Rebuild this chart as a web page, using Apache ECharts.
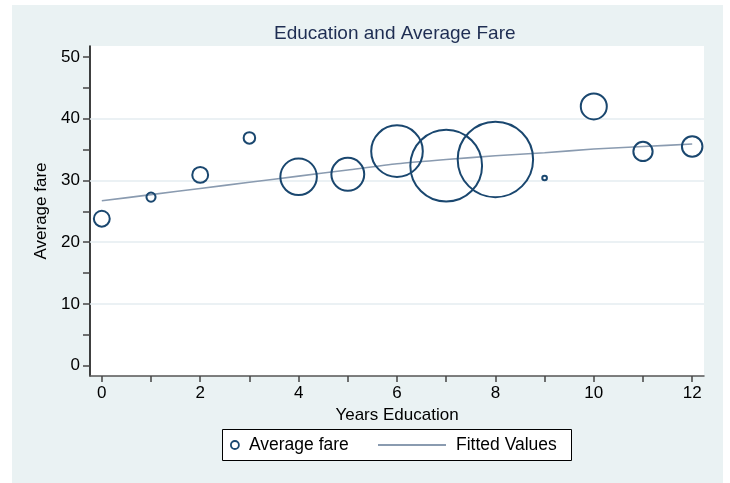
<!DOCTYPE html>
<html><head><meta charset="utf-8">
<script src="https://cdn.jsdelivr.net/npm/echarts@6/dist/echarts.min.js"></script>
<style>
html,body{margin:0;padding:0;background:#fff}
#panel{position:absolute;left:12px;top:5px;width:711px;height:478px;background:#eaf2f3}
#c{position:absolute;left:0;top:0;width:730px;height:483px}
</style>
</head><body><div id="panel"></div><div id="c"></div>
<script>
const years = [0,1,2,3,4,5,6,7,8,9,10,11,12];
const avgFare = [23.8,27.3,30.9,36.9,30.6,31.0,34.75,32.4,33.4,30.4,42.0,34.7,35.5];
const weights = [7,2.3,7,3.7,37,30,74,143,158,0.6,18.8,10.3,11.7];
const fitted = [26.7,27.7,28.7,29.7,30.7,31.7,32.7,33.4,34.0,34.5,35.1,35.5,35.9];
const xTickValues = [0,1,2,3,4,5,6,7,8,9,10,11,12];
const xLabelValues = [0,2,4,6,8,10,12];
const yTickValues = [0,5,10,15,20,25,30,35,40,45,50];
const yLabelValues = [0,10,20,30,40,50];
const gridValues = [10,20,30,40];

const FONT = "'Liberation Sans', Arial, sans-serif";
const chart = echarts.init(document.getElementById('c'));
chart.setOption({
  animation: false,
  textStyle: {fontFamily: FONT},
  title: {
    text: 'Education and Average Fare', left: 274, top: 24, padding: 0,
    textStyle: {fontSize: 19, fontWeight: 'normal', color: '#1e2d52', fontFamily: FONT}
  },
  grid: {left: 90, right: 26, top: 46, bottom: 107, show: true, backgroundColor: '#fff', borderWidth: 0},
  legend: [
    {
      left: 230, top: 436, padding: 0, itemWidth: 8, itemHeight: 8,
      data: [{name: 'Average fare', icon: 'circle', itemStyle: {color: '#fff', borderColor: '#1a476f', borderWidth: 1.8}}],
      textStyle: {fontSize: 17.5, color: '#000', fontFamily: FONT, padding: [0,0,0,5]}
    },
    {
      left: 378, top: 436, padding: 0, itemWidth: 68, itemHeight: 1.8,
      data: [{name: 'Fitted Values', icon: 'rect', itemStyle: {color: '#8a9bb0'}}],
      textStyle: {fontSize: 17.5, color: '#000', fontFamily: FONT, padding: [0,0,0,5]}
    }
  ],
  graphic: [{
    type: 'rect', shape: {x: 222.5, y: 429.5, width: 349, height: 31},
    style: {fill: '#fff', stroke: '#000', lineWidth: 1}, z: 0
  }],
  xAxis: {
    type: 'value', min: -0.24, max: 12.24,
    name: 'Years Education', nameLocation: 'middle', nameGap: 25,
    nameTextStyle: {fontSize: 17, color: '#000', fontFamily: FONT},
    axisLine: {show: true, onZero: false, lineStyle: {color: '#555', width: 1.5}},
    axisTick: {show: true, length: 6, customValues: xTickValues, lineStyle: {color: '#444', width: 1.5}},
    axisLabel: {customValues: xLabelValues, fontSize: 17, color: '#000', margin: 9, fontFamily: FONT},
    splitLine: {show: false}
  },
  yAxis: {
    type: 'value', min: -1.7, max: 51.8,
    name: 'Average fare', nameLocation: 'middle', nameGap: 37, nameRotate: 90,
    nameTextStyle: {fontSize: 17, color: '#000', fontFamily: FONT},
    axisLine: {show: true, onZero: false, lineStyle: {color: '#000', width: 1.5}},
    axisTick: {show: true, length: 7, customValues: yTickValues, lineStyle: {color: '#444', width: 1.5}},
    axisLabel: {customValues: yLabelValues, fontSize: 17, color: '#000', margin: 10, fontFamily: FONT},
    splitLine: {show: false}
  },
  series: [
    {
      name: 'Average fare', type: 'scatter', z: 3,
      data: years.map((x, i) => [x, avgFare[i], weights[i]]),
      symbol: 'circle',
      symbolSize: v => 6 * Math.sqrt(v[2]),
      itemStyle: {color: 'rgba(0,0,0,0)', borderColor: '#1a476f', borderWidth: 2, opacity: 1}
    },
    {
      name: 'Fitted Values', type: 'line', z: 2, symbol: 'none', smooth: 0.2,
      data: years.map((x, i) => [x, fitted[i]]),
      lineStyle: {color: '#8a9bb0', width: 1.6},
      itemStyle: {color: '#8a9bb0'},
      markLine: {
        silent: true, z: 1, symbol: ['none', 'none'], label: {show: false},
        lineStyle: {color: '#e4edf0', width: 1.5, type: 'solid'},
        data: gridValues.map(v => ({yAxis: v}))
      }
    }
  ]
});
</script>
</body></html>
